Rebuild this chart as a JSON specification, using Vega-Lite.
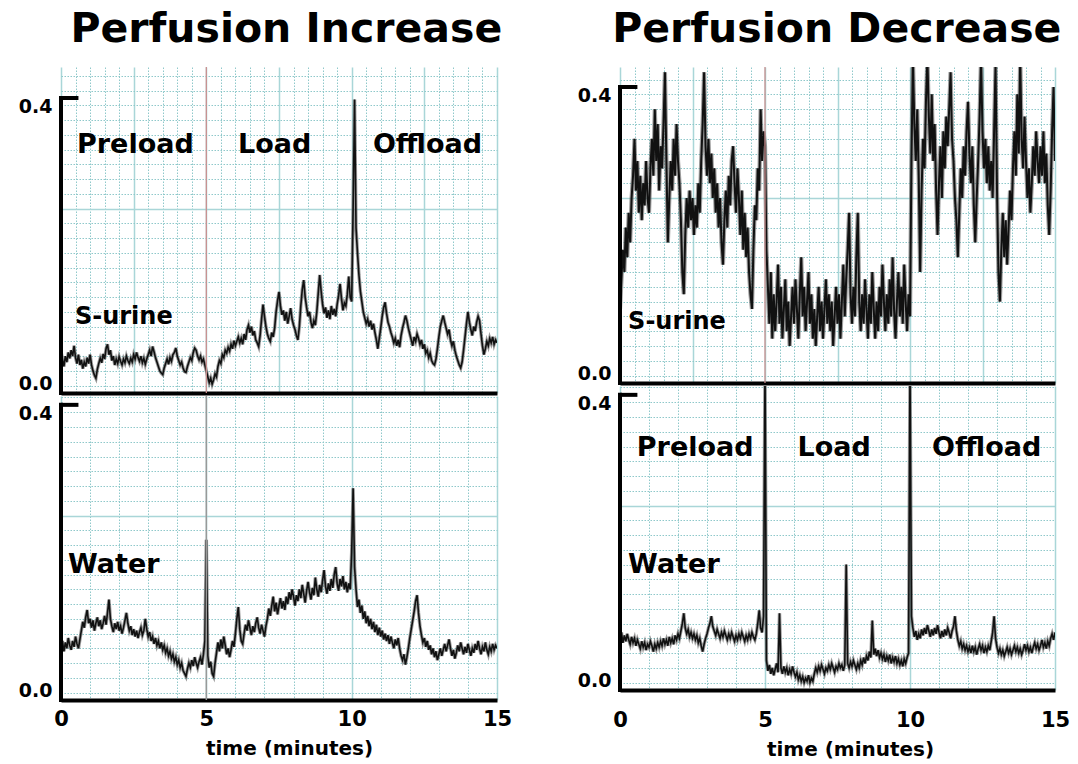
{
"$schema": "https://vega.github.io/schema/vega-lite/v6.json",
"background": "white",
"padding": {"left": 11, "top": 9, "right": 5, "bottom": 5},
"config": {
 "view": {"stroke": null},
 "font": "DejaVu Sans",
 "title": {"font": "DejaVu Sans", "fontSize": 41, "fontWeight": "bold", "color": "black", "anchor": "middle"},
 "axis": {"labelFont": "DejaVu Sans", "titleFont": "DejaVu Sans", "labelColor": "black", "titleColor": "black", "labelFontWeight": "bold", "titleFontWeight": "bold"}
},
"datasets": {"trace": [
{"t":0,"a":0.040,"b":0.072,"c":0.100,"d":0.070},
{"t":0.05,"a":0.046,"b":0.080,"c":0.140,"d":0.078},
{"t":0.1,"a":0.036,"b":0.066,"c":0.180,"d":0.064},
{"t":0.15,"a":0.050,"b":0.078,"c":0.150,"d":0.074},
{"t":0.2,"a":0.042,"b":0.070,"c":0.210,"d":0.066},
{"t":0.25,"a":0.055,"b":0.084,"c":0.170,"d":0.076},
{"t":0.3,"a":0.047,"b":0.074,"c":0.230,"d":0.068},
{"t":0.35,"a":0.058,"b":0.068,"c":0.190,"d":0.062},
{"t":0.4,"a":0.050,"b":0.080,"c":0.250,"d":0.072},
{"t":0.45,"a":0.064,"b":0.072,"c":0.280,"d":0.064},
{"t":0.5,"a":0.048,"b":0.086,"c":0.330,"d":0.070},
{"t":0.55,"a":0.040,"b":0.076,"c":0.260,"d":0.060},
{"t":0.6,"a":0.052,"b":0.070,"c":0.300,"d":0.068},
{"t":0.65,"a":0.038,"b":0.082,"c":0.230,"d":0.062},
{"t":0.7,"a":0.045,"b":0.094,"c":0.280,"d":0.056},
{"t":0.75,"a":0.033,"b":0.106,"c":0.220,"d":0.066},
{"t":0.8,"a":0.042,"b":0.098,"c":0.270,"d":0.058},
{"t":0.85,"a":0.036,"b":0.112,"c":0.240,"d":0.064},
{"t":0.9,"a":0.048,"b":0.122,"c":0.300,"d":0.054},
{"t":0.95,"a":0.040,"b":0.104,"c":0.250,"d":0.062},
{"t":1.0,"a":0.052,"b":0.110,"c":0.230,"d":0.058},
{"t":1.05,"a":0.038,"b":0.098,"c":0.290,"d":0.066},
{"t":1.1,"a":0.030,"b":0.108,"c":0.330,"d":0.060},
{"t":1.15,"a":0.024,"b":0.094,"c":0.280,"d":0.052},
{"t":1.2,"a":0.020,"b":0.104,"c":0.370,"d":0.062},
{"t":1.25,"a":0.032,"b":0.112,"c":0.300,"d":0.056},
{"t":1.3,"a":0.040,"b":0.100,"c":0.350,"d":0.064},
{"t":1.35,"a":0.047,"b":0.108,"c":0.260,"d":0.058},
{"t":1.4,"a":0.041,"b":0.096,"c":0.320,"d":0.066},
{"t":1.45,"a":0.053,"b":0.104,"c":0.290,"d":0.060},
{"t":1.5,"a":0.046,"b":0.114,"c":0.350,"d":0.070},
{"t":1.55,"a":0.060,"b":0.102,"c":0.420,"d":0.062},
{"t":1.6,"a":0.066,"b":0.118,"c":0.300,"d":0.068},
{"t":1.65,"a":0.052,"b":0.136,"c":0.190,"d":0.060},
{"t":1.7,"a":0.058,"b":0.110,"c":0.250,"d":0.072},
{"t":1.75,"a":0.044,"b":0.100,"c":0.300,"d":0.064},
{"t":1.8,"a":0.050,"b":0.092,"c":0.260,"d":0.070},
{"t":1.85,"a":0.038,"b":0.104,"c":0.330,"d":0.062},
{"t":1.9,"a":0.046,"b":0.096,"c":0.280,"d":0.074},
{"t":1.95,"a":0.040,"b":0.106,"c":0.350,"d":0.068},
{"t":2.0,"a":0.049,"b":0.094,"c":0.300,"d":0.076},
{"t":2.05,"a":0.043,"b":0.100,"c":0.270,"d":0.070},
{"t":2.1,"a":0.038,"b":0.090,"c":0.220,"d":0.080},
{"t":2.15,"a":0.046,"b":0.098,"c":0.150,"d":0.090},
{"t":2.2,"a":0.041,"b":0.108,"c":0.120,"d":0.104},
{"t":2.25,"a":0.050,"b":0.118,"c":0.200,"d":0.084},
{"t":2.3,"a":0.044,"b":0.104,"c":0.250,"d":0.076},
{"t":2.35,"a":0.040,"b":0.094,"c":0.210,"d":0.082},
{"t":2.4,"a":0.047,"b":0.100,"c":0.260,"d":0.072},
{"t":2.45,"a":0.042,"b":0.088,"c":0.220,"d":0.078},
{"t":2.5,"a":0.052,"b":0.096,"c":0.250,"d":0.070},
{"t":2.55,"a":0.046,"b":0.086,"c":0.200,"d":0.076},
{"t":2.6,"a":0.055,"b":0.094,"c":0.240,"d":0.068},
{"t":2.65,"a":0.048,"b":0.084,"c":0.210,"d":0.074},
{"t":2.7,"a":0.043,"b":0.092,"c":0.270,"d":0.064},
{"t":2.75,"a":0.050,"b":0.098,"c":0.230,"d":0.070},
{"t":2.8,"a":0.041,"b":0.088,"c":0.300,"d":0.060},
{"t":2.85,"a":0.047,"b":0.094,"c":0.350,"d":0.052},
{"t":2.9,"a":0.039,"b":0.110,"c":0.420,"d":0.062},
{"t":2.95,"a":0.046,"b":0.096,"c":0.320,"d":0.070},
{"t":3.0,"a":0.052,"b":0.086,"c":0.280,"d":0.076},
{"t":3.05,"a":0.058,"b":0.092,"c":0.330,"d":0.084},
{"t":3.1,"a":0.050,"b":0.080,"c":0.270,"d":0.090},
{"t":3.15,"a":0.063,"b":0.086,"c":0.310,"d":0.100},
{"t":3.2,"a":0.056,"b":0.076,"c":0.250,"d":0.086},
{"t":3.25,"a":0.048,"b":0.084,"c":0.290,"d":0.080},
{"t":3.3,"a":0.042,"b":0.074,"c":0.230,"d":0.074},
{"t":3.35,"a":0.036,"b":0.080,"c":0.270,"d":0.082},
{"t":3.4,"a":0.030,"b":0.070,"c":0.210,"d":0.076},
{"t":3.45,"a":0.027,"b":0.078,"c":0.250,"d":0.070},
{"t":3.5,"a":0.025,"b":0.068,"c":0.190,"d":0.078},
{"t":3.55,"a":0.034,"b":0.074,"c":0.160,"d":0.072},
{"t":3.6,"a":0.040,"b":0.064,"c":0.220,"d":0.080},
{"t":3.65,"a":0.046,"b":0.070,"c":0.260,"d":0.074},
{"t":3.7,"a":0.039,"b":0.060,"c":0.210,"d":0.068},
{"t":3.75,"a":0.048,"b":0.066,"c":0.280,"d":0.076},
{"t":3.8,"a":0.043,"b":0.056,"c":0.240,"d":0.070},
{"t":3.85,"a":0.052,"b":0.062,"c":0.300,"d":0.078},
{"t":3.9,"a":0.055,"b":0.052,"c":0.320,"d":0.072},
{"t":3.95,"a":0.061,"b":0.058,"c":0.270,"d":0.066},
{"t":4.0,"a":0.050,"b":0.048,"c":0.230,"d":0.074},
{"t":4.05,"a":0.044,"b":0.054,"c":0.290,"d":0.068},
{"t":4.1,"a":0.038,"b":0.044,"c":0.250,"d":0.076},
{"t":4.15,"a":0.042,"b":0.050,"c":0.200,"d":0.070},
{"t":4.2,"a":0.034,"b":0.040,"c":0.260,"d":0.078},
{"t":4.25,"a":0.029,"b":0.036,"c":0.180,"d":0.072},
{"t":4.3,"a":0.028,"b":0.032,"c":0.230,"d":0.066},
{"t":4.35,"a":0.036,"b":0.042,"c":0.170,"d":0.074},
{"t":4.4,"a":0.042,"b":0.050,"c":0.210,"d":0.068},
{"t":4.45,"a":0.048,"b":0.044,"c":0.150,"d":0.076},
{"t":4.5,"a":0.044,"b":0.054,"c":0.120,"d":0.070},
{"t":4.55,"a":0.055,"b":0.046,"c":0.100,"d":0.078},
{"t":4.6,"a":0.061,"b":0.058,"c":0.180,"d":0.072},
{"t":4.65,"a":0.058,"b":0.050,"c":0.240,"d":0.068},
{"t":4.7,"a":0.050,"b":0.044,"c":0.220,"d":0.076},
{"t":4.75,"a":0.045,"b":0.052,"c":0.290,"d":0.090},
{"t":4.8,"a":0.050,"b":0.058,"c":0.260,"d":0.108},
{"t":4.85,"a":0.042,"b":0.048,"c":0.370,"d":0.084},
{"t":4.9,"a":0.046,"b":0.062,"c":0.300,"d":0.078},
{"t":4.95,"a":0.038,"b":0.080,"c":0.340,"d":0.100},
{"t":5.0,"a":0.030,"b":0.217,"c":0.320,"d":0.440},
{"t":5.05,"a":0.022,"b":0.060,"c":0.180,"d":0.040},
{"t":5.1,"a":0.014,"b":0.044,"c":0.130,"d":0.026},
{"t":5.15,"a":0.020,"b":0.052,"c":0.080,"d":0.034},
{"t":5.2,"a":0.012,"b":0.036,"c":0.150,"d":0.022},
{"t":5.25,"a":0.018,"b":0.032,"c":0.060,"d":0.030},
{"t":5.3,"a":0.026,"b":0.050,"c":0.120,"d":0.020},
{"t":5.35,"a":0.022,"b":0.064,"c":0.070,"d":0.028},
{"t":5.4,"a":0.036,"b":0.078,"c":0.110,"d":0.036},
{"t":5.45,"a":0.044,"b":0.066,"c":0.160,"d":0.024},
{"t":5.5,"a":0.040,"b":0.082,"c":0.080,"d":0.104},
{"t":5.55,"a":0.052,"b":0.070,"c":0.130,"d":0.030},
{"t":5.6,"a":0.048,"b":0.086,"c":0.060,"d":0.022},
{"t":5.65,"a":0.058,"b":0.074,"c":0.100,"d":0.032},
{"t":5.7,"a":0.054,"b":0.062,"c":0.140,"d":0.024},
{"t":5.75,"a":0.062,"b":0.070,"c":0.070,"d":0.030},
{"t":5.8,"a":0.057,"b":0.058,"c":0.110,"d":0.020},
{"t":5.85,"a":0.066,"b":0.068,"c":0.050,"d":0.028},
{"t":5.9,"a":0.060,"b":0.080,"c":0.090,"d":0.022},
{"t":5.95,"a":0.071,"b":0.072,"c":0.130,"d":0.032},
{"t":6.0,"a":0.064,"b":0.090,"c":0.080,"d":0.024},
{"t":6.05,"a":0.070,"b":0.110,"c":0.140,"d":0.018},
{"t":6.1,"a":0.076,"b":0.126,"c":0.100,"d":0.024},
{"t":6.15,"a":0.068,"b":0.096,"c":0.060,"d":0.014},
{"t":6.2,"a":0.074,"b":0.080,"c":0.120,"d":0.020},
{"t":6.25,"a":0.066,"b":0.076,"c":0.170,"d":0.012},
{"t":6.3,"a":0.080,"b":0.090,"c":0.090,"d":0.018},
{"t":6.35,"a":0.072,"b":0.102,"c":0.130,"d":0.010},
{"t":6.4,"a":0.086,"b":0.094,"c":0.070,"d":0.016},
{"t":6.45,"a":0.092,"b":0.108,"c":0.110,"d":0.012},
{"t":6.5,"a":0.082,"b":0.098,"c":0.150,"d":0.020},
{"t":6.55,"a":0.090,"b":0.088,"c":0.080,"d":0.010},
{"t":6.6,"a":0.078,"b":0.100,"c":0.120,"d":0.016},
{"t":6.65,"a":0.084,"b":0.092,"c":0.060,"d":0.012},
{"t":6.7,"a":0.072,"b":0.104,"c":0.100,"d":0.022},
{"t":6.75,"a":0.068,"b":0.112,"c":0.050,"d":0.030},
{"t":6.8,"a":0.063,"b":0.098,"c":0.090,"d":0.024},
{"t":6.85,"a":0.078,"b":0.090,"c":0.130,"d":0.032},
{"t":6.9,"a":0.100,"b":0.102,"c":0.070,"d":0.026},
{"t":6.95,"a":0.120,"b":0.094,"c":0.110,"d":0.034},
{"t":7.0,"a":0.104,"b":0.086,"c":0.060,"d":0.028},
{"t":7.05,"a":0.090,"b":0.100,"c":0.100,"d":0.022},
{"t":7.1,"a":0.080,"b":0.110,"c":0.140,"d":0.030},
{"t":7.15,"a":0.074,"b":0.124,"c":0.080,"d":0.026},
{"t":7.2,"a":0.070,"b":0.114,"c":0.120,"d":0.034},
{"t":7.25,"a":0.082,"b":0.128,"c":0.070,"d":0.028},
{"t":7.3,"a":0.076,"b":0.140,"c":0.110,"d":0.036},
{"t":7.35,"a":0.088,"b":0.120,"c":0.050,"d":0.030},
{"t":7.4,"a":0.110,"b":0.132,"c":0.090,"d":0.024},
{"t":7.45,"a":0.125,"b":0.116,"c":0.130,"d":0.032},
{"t":7.5,"a":0.137,"b":0.128,"c":0.080,"d":0.028},
{"t":7.55,"a":0.118,"b":0.138,"c":0.120,"d":0.036},
{"t":7.6,"a":0.106,"b":0.124,"c":0.060,"d":0.030},
{"t":7.65,"a":0.112,"b":0.134,"c":0.110,"d":0.034},
{"t":7.7,"a":0.098,"b":0.122,"c":0.160,"d":0.026},
{"t":7.75,"a":0.110,"b":0.140,"c":0.090,"d":0.034},
{"t":7.8,"a":0.094,"b":0.130,"c":0.140,"d":0.170},
{"t":7.85,"a":0.104,"b":0.146,"c":0.180,"d":0.036},
{"t":7.9,"a":0.115,"b":0.136,"c":0.230,"d":0.030},
{"t":7.95,"a":0.100,"b":0.150,"c":0.120,"d":0.038},
{"t":8.0,"a":0.092,"b":0.140,"c":0.080,"d":0.032},
{"t":8.05,"a":0.086,"b":0.128,"c":0.130,"d":0.040},
{"t":8.1,"a":0.078,"b":0.142,"c":0.090,"d":0.034},
{"t":8.15,"a":0.072,"b":0.134,"c":0.170,"d":0.028},
{"t":8.2,"a":0.090,"b":0.150,"c":0.230,"d":0.036},
{"t":8.25,"a":0.118,"b":0.138,"c":0.110,"d":0.030},
{"t":8.3,"a":0.140,"b":0.156,"c":0.070,"d":0.040},
{"t":8.35,"a":0.153,"b":0.144,"c":0.120,"d":0.034},
{"t":8.4,"a":0.130,"b":0.132,"c":0.080,"d":0.044},
{"t":8.45,"a":0.116,"b":0.148,"c":0.140,"d":0.036},
{"t":8.5,"a":0.104,"b":0.160,"c":0.100,"d":0.046},
{"t":8.55,"a":0.110,"b":0.146,"c":0.060,"d":0.040},
{"t":8.6,"a":0.096,"b":0.136,"c":0.120,"d":0.052},
{"t":8.65,"a":0.088,"b":0.152,"c":0.080,"d":0.044},
{"t":8.7,"a":0.098,"b":0.142,"c":0.150,"d":0.094},
{"t":8.75,"a":0.092,"b":0.166,"c":0.100,"d":0.048},
{"t":8.8,"a":0.110,"b":0.150,"c":0.060,"d":0.056},
{"t":8.85,"a":0.135,"b":0.140,"c":0.110,"d":0.046},
{"t":8.9,"a":0.160,"b":0.156,"c":0.070,"d":0.054},
{"t":8.95,"a":0.138,"b":0.146,"c":0.130,"d":0.044},
{"t":9.0,"a":0.120,"b":0.162,"c":0.090,"d":0.050},
{"t":9.05,"a":0.108,"b":0.176,"c":0.160,"d":0.042},
{"t":9.1,"a":0.116,"b":0.154,"c":0.110,"d":0.048},
{"t":9.15,"a":0.102,"b":0.144,"c":0.070,"d":0.038},
{"t":9.2,"a":0.112,"b":0.158,"c":0.120,"d":0.046},
{"t":9.25,"a":0.100,"b":0.148,"c":0.080,"d":0.040},
{"t":9.3,"a":0.118,"b":0.164,"c":0.140,"d":0.048},
{"t":9.35,"a":0.106,"b":0.152,"c":0.090,"d":0.036},
{"t":9.4,"a":0.114,"b":0.170,"c":0.170,"d":0.044},
{"t":9.45,"a":0.104,"b":0.180,"c":0.100,"d":0.038},
{"t":9.5,"a":0.120,"b":0.158,"c":0.060,"d":0.046},
{"t":9.55,"a":0.132,"b":0.148,"c":0.110,"d":0.036},
{"t":9.6,"a":0.148,"b":0.164,"c":0.150,"d":0.042},
{"t":9.65,"a":0.128,"b":0.154,"c":0.090,"d":0.034},
{"t":9.7,"a":0.112,"b":0.168,"c":0.130,"d":0.040},
{"t":9.75,"a":0.122,"b":0.150,"c":0.080,"d":0.032},
{"t":9.8,"a":0.118,"b":0.160,"c":0.160,"d":0.042},
{"t":9.85,"a":0.134,"b":0.146,"c":0.110,"d":0.036},
{"t":9.9,"a":0.158,"b":0.158,"c":0.070,"d":0.044},
{"t":9.95,"a":0.130,"b":0.150,"c":0.120,"d":0.050},
{"t":10.0,"a":0.124,"b":0.200,"c":0.090,"d":0.440},
{"t":10.05,"a":0.250,"b":0.287,"c":0.300,"d":0.100},
{"t":10.1,"a":0.398,"b":0.180,"c":0.440,"d":0.084},
{"t":10.15,"a":0.224,"b":0.150,"c":0.350,"d":0.072},
{"t":10.2,"a":0.190,"b":0.126,"c":0.300,"d":0.080},
{"t":10.25,"a":0.160,"b":0.136,"c":0.370,"d":0.068},
{"t":10.3,"a":0.138,"b":0.118,"c":0.280,"d":0.076},
{"t":10.35,"a":0.124,"b":0.128,"c":0.150,"d":0.070},
{"t":10.4,"a":0.110,"b":0.110,"c":0.260,"d":0.082},
{"t":10.45,"a":0.102,"b":0.120,"c":0.330,"d":0.074},
{"t":10.5,"a":0.094,"b":0.104,"c":0.290,"d":0.084},
{"t":10.55,"a":0.100,"b":0.114,"c":0.380,"d":0.076},
{"t":10.6,"a":0.090,"b":0.100,"c":0.440,"d":0.088},
{"t":10.65,"a":0.098,"b":0.110,"c":0.360,"d":0.080},
{"t":10.7,"a":0.086,"b":0.096,"c":0.310,"d":0.072},
{"t":10.75,"a":0.094,"b":0.106,"c":0.390,"d":0.082},
{"t":10.8,"a":0.082,"b":0.092,"c":0.300,"d":0.074},
{"t":10.85,"a":0.072,"b":0.102,"c":0.350,"d":0.084},
{"t":10.9,"a":0.060,"b":0.088,"c":0.260,"d":0.076},
{"t":10.95,"a":0.074,"b":0.098,"c":0.200,"d":0.088},
{"t":11.0,"a":0.088,"b":0.086,"c":0.270,"d":0.078},
{"t":11.05,"a":0.104,"b":0.094,"c":0.320,"d":0.070},
{"t":11.1,"a":0.116,"b":0.082,"c":0.250,"d":0.080},
{"t":11.15,"a":0.123,"b":0.090,"c":0.340,"d":0.072},
{"t":11.2,"a":0.108,"b":0.080,"c":0.290,"d":0.082},
{"t":11.25,"a":0.096,"b":0.088,"c":0.360,"d":0.074},
{"t":11.3,"a":0.090,"b":0.076,"c":0.320,"d":0.084},
{"t":11.35,"a":0.082,"b":0.086,"c":0.370,"d":0.078},
{"t":11.4,"a":0.076,"b":0.078,"c":0.420,"d":0.070},
{"t":11.45,"a":0.068,"b":0.070,"c":0.330,"d":0.080},
{"t":11.5,"a":0.074,"b":0.082,"c":0.300,"d":0.086},
{"t":11.55,"a":0.064,"b":0.074,"c":0.250,"d":0.100},
{"t":11.6,"a":0.072,"b":0.084,"c":0.220,"d":0.080},
{"t":11.65,"a":0.062,"b":0.070,"c":0.170,"d":0.068},
{"t":11.7,"a":0.078,"b":0.060,"c":0.230,"d":0.060},
{"t":11.75,"a":0.088,"b":0.054,"c":0.290,"d":0.066},
{"t":11.8,"a":0.096,"b":0.062,"c":0.250,"d":0.056},
{"t":11.85,"a":0.105,"b":0.048,"c":0.320,"d":0.062},
{"t":11.9,"a":0.098,"b":0.058,"c":0.280,"d":0.054},
{"t":11.95,"a":0.088,"b":0.070,"c":0.340,"d":0.060},
{"t":12.0,"a":0.080,"b":0.084,"c":0.380,"d":0.052},
{"t":12.05,"a":0.072,"b":0.096,"c":0.310,"d":0.058},
{"t":12.1,"a":0.064,"b":0.108,"c":0.270,"d":0.050},
{"t":12.15,"a":0.076,"b":0.120,"c":0.320,"d":0.060},
{"t":12.2,"a":0.070,"b":0.134,"c":0.240,"d":0.052},
{"t":12.25,"a":0.080,"b":0.142,"c":0.190,"d":0.058},
{"t":12.3,"a":0.074,"b":0.118,"c":0.250,"d":0.048},
{"t":12.35,"a":0.066,"b":0.100,"c":0.300,"d":0.056},
{"t":12.4,"a":0.072,"b":0.088,"c":0.360,"d":0.062},
{"t":12.45,"a":0.060,"b":0.078,"c":0.440,"d":0.054},
{"t":12.5,"a":0.066,"b":0.084,"c":0.340,"d":0.060},
{"t":12.55,"a":0.054,"b":0.072,"c":0.290,"d":0.050},
{"t":12.6,"a":0.058,"b":0.080,"c":0.330,"d":0.058},
{"t":12.65,"a":0.048,"b":0.068,"c":0.270,"d":0.052},
{"t":12.7,"a":0.054,"b":0.074,"c":0.320,"d":0.060},
{"t":12.75,"a":0.044,"b":0.062,"c":0.260,"d":0.054},
{"t":12.8,"a":0.040,"b":0.070,"c":0.300,"d":0.066},
{"t":12.85,"a":0.038,"b":0.058,"c":0.250,"d":0.078},
{"t":12.9,"a":0.046,"b":0.066,"c":0.340,"d":0.100},
{"t":12.95,"a":0.060,"b":0.054,"c":0.430,"d":0.070},
{"t":13.0,"a":0.076,"b":0.062,"c":0.260,"d":0.058},
{"t":13.05,"a":0.090,"b":0.070,"c":0.150,"d":0.050},
{"t":13.1,"a":0.098,"b":0.060,"c":0.110,"d":0.056},
{"t":13.15,"a":0.105,"b":0.068,"c":0.180,"d":0.048},
{"t":13.2,"a":0.096,"b":0.076,"c":0.230,"d":0.054},
{"t":13.25,"a":0.088,"b":0.066,"c":0.170,"d":0.046},
{"t":13.3,"a":0.080,"b":0.074,"c":0.220,"d":0.052},
{"t":13.35,"a":0.086,"b":0.082,"c":0.160,"d":0.058},
{"t":13.4,"a":0.072,"b":0.070,"c":0.210,"d":0.050},
{"t":13.45,"a":0.064,"b":0.060,"c":0.260,"d":0.056},
{"t":13.5,"a":0.070,"b":0.068,"c":0.220,"d":0.048},
{"t":13.55,"a":0.058,"b":0.056,"c":0.290,"d":0.054},
{"t":13.6,"a":0.050,"b":0.064,"c":0.340,"d":0.060},
{"t":13.65,"a":0.044,"b":0.074,"c":0.280,"d":0.052},
{"t":13.7,"a":0.038,"b":0.066,"c":0.390,"d":0.058},
{"t":13.75,"a":0.034,"b":0.078,"c":0.310,"d":0.050},
{"t":13.8,"a":0.042,"b":0.070,"c":0.440,"d":0.056},
{"t":13.85,"a":0.058,"b":0.062,"c":0.330,"d":0.048},
{"t":13.9,"a":0.076,"b":0.072,"c":0.290,"d":0.054},
{"t":13.95,"a":0.094,"b":0.064,"c":0.360,"d":0.062},
{"t":14.0,"a":0.110,"b":0.076,"c":0.300,"d":0.054},
{"t":14.05,"a":0.096,"b":0.068,"c":0.250,"d":0.060},
{"t":14.1,"a":0.086,"b":0.060,"c":0.290,"d":0.052},
{"t":14.15,"a":0.078,"b":0.070,"c":0.230,"d":0.058},
{"t":14.2,"a":0.090,"b":0.064,"c":0.270,"d":0.050},
{"t":14.25,"a":0.084,"b":0.076,"c":0.320,"d":0.058},
{"t":14.3,"a":0.096,"b":0.068,"c":0.280,"d":0.064},
{"t":14.35,"a":0.104,"b":0.080,"c":0.340,"d":0.056},
{"t":14.4,"a":0.098,"b":0.070,"c":0.300,"d":0.062},
{"t":14.45,"a":0.080,"b":0.062,"c":0.270,"d":0.054},
{"t":14.5,"a":0.064,"b":0.072,"c":0.320,"d":0.060},
{"t":14.55,"a":0.052,"b":0.066,"c":0.280,"d":0.068},
{"t":14.6,"a":0.060,"b":0.078,"c":0.340,"d":0.058},
{"t":14.65,"a":0.070,"b":0.068,"c":0.270,"d":0.064},
{"t":14.7,"a":0.064,"b":0.062,"c":0.310,"d":0.056},
{"t":14.75,"a":0.074,"b":0.072,"c":0.240,"d":0.066},
{"t":14.8,"a":0.068,"b":0.066,"c":0.200,"d":0.060},
{"t":14.85,"a":0.076,"b":0.076,"c":0.260,"d":0.070},
{"t":14.9,"a":0.066,"b":0.068,"c":0.340,"d":0.076},
{"t":14.95,"a":0.072,"b":0.074,"c":0.400,"d":0.068},
{"t":15.0,"a":0.068,"b":0.070,"c":0.300,"d":0.078}
]},
"spacing": 58,
"hconcat": [
{
 "title": {"text": "Perfusion Increase", "offset": 15, "dx": 25},
 "spacing": -2,
 "vconcat": [
  {
   "width": 436, "height": 326,
   "layer": [
    {
     "data": {"name": "trace"},
     "mark": {"type": "line", "color": "#5a5a5a", "strokeWidth": 3.4, "opacity": 0.6, "clip": true},
     "encoding": {
      "x": {"field": "t", "type": "quantitative", "scale": {"domain": [0, 15], "nice": false, "zero": false},
       "axis": {"title": null, "tickCount": 1000, "values": [0,0.5,1,1.5,2,2.5,3,3.5,4,4.5,5,5.5,6,6.5,7,7.5,8,8.5,9,9.5,10,10.5,11,11.5,12,12.5,13,13.5,14,14.5,15],
        "labels": false, "ticks": false, "domainColor": "black", "domainWidth": 4, "grid": true,
        "gridColor": {"condition": {"test": "datum.value % 2.5 === 0", "value": "#a9d6d8"}, "value": "#8fc8ca"},
        "gridDash": {"condition": {"test": "datum.value % 2.5 === 0", "value": []}, "value": [1.5, 1.5]},
        "gridWidth": {"condition": {"test": "datum.value % 2.5 === 0", "value": 1.5}, "value": 1}}},
      "y": {"field": "a", "type": "quantitative", "scale": {"domain": [0, 0.442], "nice": false},
       "axis": {"title": null, "tickCount": 1000, "values": [0,0.4,0.01,0.03,0.05,0.07,0.09,0.11,0.13,0.15,0.17,0.19,0.21,0.23,0.25,0.27,0.29,0.31,0.33,0.35,0.37,0.39,0.41,0.43],
        "labelExpr": "datum.value === 0 || datum.value === 0.4 ? format(datum.value, '.1f') : ''",
        "labelFontSize": {"condition": {"test": "datum.value === 0 || datum.value === 0.4", "value": 19}, "value": 0.1},
        "labelPadding": 9, "labelOverlap": false,
        "labelBaseline": {"condition": {"test": "datum.value === 0", "value": "bottom"}, "value": "top"},
        "ticks": false, "domain": false, "minExtent": 50, "maxExtent": 50, "grid": true,
        "gridColor": {"condition": {"test": "datum.value === 0.25", "value": "#a9d6d8"}, "value": "#8fc8ca"},
        "gridDash": {"condition": {"test": "datum.value === 0.25", "value": []}, "value": [1.5, 1.5]},
        "gridWidth": {"condition": {"test": "datum.value === 0.25", "value": 1.5}, "value": 1},
        "gridOpacity": {"condition": {"test": "datum.value === 0 || datum.value === 0.4", "value": 0}, "value": 1}}}
     }
    },
    {"data": {"name": "trace"}, "mark": {"type": "line", "color": "#111111", "strokeWidth": 1.6, "clip": true}, "encoding": {"x": {"field": "t", "type": "quantitative"}, "y": {"field": "a", "type": "quantitative"}}},
    {"data": {"values": [{}]}, "mark": {"type": "rule", "color": "#c99090", "strokeWidth": 1.3}, "encoding": {"x": {"datum": 5}}},
    {"data": {"values": [{}]}, "mark": {"type": "rule", "color": "black", "strokeWidth": 4, "strokeCap": "square"}, "encoding": {"x": {"datum": 0}, "y": {"datum": 0}, "y2": {"datum": 0.4}}},
    {"data": {"values": [{}]}, "mark": {"type": "rule", "color": "black", "strokeWidth": 4}, "encoding": {"x": {"datum": 0}, "x2": {"datum": 0.6}, "y": {"datum": 0.4}}},
    {"data": {"values": [{}]}, "mark": {"type": "text", "text": "Preload", "align": "left", "baseline": "middle", "fontSize": 27, "fontWeight": "bold", "font": "DejaVu Sans"}, "encoding": {"x": {"datum": 0.55}, "y": {"datum": 0.336}}},
    {"data": {"values": [{}]}, "mark": {"type": "text", "text": "Load", "align": "left", "baseline": "middle", "fontSize": 27, "fontWeight": "bold", "font": "DejaVu Sans"}, "encoding": {"x": {"datum": 6.09}, "y": {"datum": 0.336}}},
    {"data": {"values": [{}]}, "mark": {"type": "text", "text": "Offload", "align": "left", "baseline": "middle", "fontSize": 27, "fontWeight": "bold", "font": "DejaVu Sans"}, "encoding": {"x": {"datum": 10.73}, "y": {"datum": 0.336}}},
    {"data": {"values": [{}]}, "mark": {"type": "text", "text": "S-urine", "align": "left", "baseline": "middle", "fontSize": 24, "fontWeight": "bold", "font": "DejaVu Sans"}, "encoding": {"x": {"datum": 0.48}, "y": {"datum": 0.103}}}
   ]
  },
  {
   "width": 436, "height": 304,
   "layer": [
    {
     "data": {"name": "trace"},
     "mark": {"type": "line", "color": "#5a5a5a", "strokeWidth": 3.4, "opacity": 0.6, "clip": true},
     "encoding": {
      "x": {"field": "t", "type": "quantitative", "scale": {"domain": [0, 15], "nice": false, "zero": false},
       "axis": {"title": "time (minutes)", "titleFontSize": 20, "titlePadding": 9, "titleX": 228, "tickCount": 1000, "values": [0,0.5,1,1.5,2,2.5,3,3.5,4,4.5,5,5.5,6,6.5,7,7.5,8,8.5,9,9.5,10,10.5,11,11.5,12,12.5,13,13.5,14,14.5,15],
        "format": "d", "labelExpr": "datum.value % 5 === 0 ? datum.label : ''", "labelFontSize": 21, "labelPadding": 8, "labelFlush": false, "labelOverlap": false,
        "ticks": false, "domainColor": "black", "domainWidth": 4, "grid": true,
        "gridColor": {"condition": {"test": "datum.value % 2.5 === 0", "value": "#a9d6d8"}, "value": "#8fc8ca"},
        "gridDash": {"condition": {"test": "datum.value % 2.5 === 0", "value": []}, "value": [1.5, 1.5]},
        "gridWidth": {"condition": {"test": "datum.value % 2.5 === 0", "value": 1.5}, "value": 1}}},
      "y": {"field": "b", "type": "quantitative", "scale": {"domain": [0, 0.412], "nice": false},
       "axis": {"title": null, "tickCount": 1000, "values": [0,0.4,0.01,0.03,0.05,0.07,0.09,0.11,0.13,0.15,0.17,0.19,0.21,0.23,0.25,0.27,0.29,0.31,0.33,0.35,0.37,0.39,0.41],
        "labelExpr": "datum.value === 0 || datum.value === 0.4 ? format(datum.value, '.1f') : ''",
        "labelFontSize": {"condition": {"test": "datum.value === 0 || datum.value === 0.4", "value": 19}, "value": 0.1},
        "labelPadding": 9, "labelOverlap": false,
        "labelBaseline": {"condition": {"test": "datum.value === 0", "value": "bottom"}, "value": "top"},
        "ticks": false, "domain": false, "minExtent": 50, "maxExtent": 50, "grid": true,
        "gridColor": {"condition": {"test": "datum.value === 0.25", "value": "#a9d6d8"}, "value": "#8fc8ca"},
        "gridDash": {"condition": {"test": "datum.value === 0.25", "value": []}, "value": [1.5, 1.5]},
        "gridWidth": {"condition": {"test": "datum.value === 0.25", "value": 1.5}, "value": 1},
        "gridOpacity": {"condition": {"test": "datum.value === 0 || datum.value === 0.4", "value": 0}, "value": 1}}}
     }
    },
    {"data": {"name": "trace"}, "mark": {"type": "line", "color": "#111111", "strokeWidth": 1.6, "clip": true}, "encoding": {"x": {"field": "t", "type": "quantitative"}, "y": {"field": "b", "type": "quantitative"}}},
    {"data": {"values": [{}]}, "mark": {"type": "rule", "color": "#999999", "strokeWidth": 1.5}, "encoding": {"x": {"datum": 5}}},
    {"data": {"values": [{}]}, "mark": {"type": "rule", "color": "black", "strokeWidth": 4, "strokeCap": "square"}, "encoding": {"x": {"datum": 0}, "y": {"datum": 0}, "y2": {"datum": 0.4}}},
    {"data": {"values": [{}]}, "mark": {"type": "rule", "color": "black", "strokeWidth": 4}, "encoding": {"x": {"datum": 0}, "x2": {"datum": 0.6}, "y": {"datum": 0.4}}},
    {"data": {"values": [{}]}, "mark": {"type": "text", "text": "Water", "align": "left", "baseline": "middle", "fontSize": 27, "fontWeight": "bold", "font": "DejaVu Sans"}, "encoding": {"x": {"datum": 0.24}, "y": {"datum": 0.183}}}
   ]
  }
 ]
},
{
 "title": {"text": "Perfusion Decrease", "offset": 15, "dx": 17},
 "spacing": -2,
 "vconcat": [
  {
   "width": 435, "height": 316,
   "layer": [
    {
     "data": {"name": "trace"},
     "mark": {"type": "line", "color": "#5a5a5a", "strokeWidth": 4.2, "opacity": 0.6, "clip": true},
     "encoding": {
      "x": {"field": "t", "type": "quantitative", "scale": {"domain": [0, 15], "nice": false, "zero": false},
       "axis": {"title": null, "tickCount": 1000, "values": [0,0.5,1,1.5,2,2.5,3,3.5,4,4.5,5,5.5,6,6.5,7,7.5,8,8.5,9,9.5,10,10.5,11,11.5,12,12.5,13,13.5,14,14.5,15],
        "labels": false, "ticks": false, "domainColor": "black", "domainWidth": 4, "grid": true,
        "gridColor": {"condition": {"test": "datum.value % 2.5 === 0", "value": "#a9d6d8"}, "value": "#8fc8ca"},
        "gridDash": {"condition": {"test": "datum.value % 2.5 === 0", "value": []}, "value": [1.5, 1.5]},
        "gridWidth": {"condition": {"test": "datum.value % 2.5 === 0", "value": 1.5}, "value": 1}}},
      "y": {"field": "c", "type": "quantitative", "scale": {"domain": [0, 0.427], "nice": false},
       "axis": {"title": null, "tickCount": 1000, "values": [0,0.4,0.01,0.03,0.05,0.07,0.09,0.11,0.13,0.15,0.17,0.19,0.21,0.23,0.25,0.27,0.29,0.31,0.33,0.35,0.37,0.39,0.41],
        "labelExpr": "datum.value === 0 || datum.value === 0.4 ? format(datum.value, '.1f') : ''",
        "labelFontSize": {"condition": {"test": "datum.value === 0 || datum.value === 0.4", "value": 19}, "value": 0.1},
        "labelPadding": 9, "labelOverlap": false,
        "labelBaseline": {"condition": {"test": "datum.value === 0", "value": "bottom"}, "value": "top"},
        "ticks": false, "domain": false, "minExtent": 50, "maxExtent": 50, "grid": true,
        "gridColor": {"condition": {"test": "datum.value === 0.25", "value": "#a9d6d8"}, "value": "#8fc8ca"},
        "gridDash": {"condition": {"test": "datum.value === 0.25", "value": []}, "value": [1.5, 1.5]},
        "gridWidth": {"condition": {"test": "datum.value === 0.25", "value": 1.5}, "value": 1},
        "gridOpacity": {"condition": {"test": "datum.value === 0 || datum.value === 0.4", "value": 0}, "value": 1}}}
     }
    },
    {"data": {"name": "trace"}, "mark": {"type": "line", "color": "#111111", "strokeWidth": 2.0, "clip": true}, "encoding": {"x": {"field": "t", "type": "quantitative"}, "y": {"field": "c", "type": "quantitative"}}},
    {"data": {"values": [{}]}, "mark": {"type": "rule", "color": "#c99090", "strokeWidth": 1.3}, "encoding": {"x": {"datum": 5}}},
    {"data": {"values": [{}]}, "mark": {"type": "rule", "color": "black", "strokeWidth": 4, "strokeCap": "square"}, "encoding": {"x": {"datum": 0}, "y": {"datum": 0}, "y2": {"datum": 0.4}}},
    {"data": {"values": [{}]}, "mark": {"type": "rule", "color": "black", "strokeWidth": 4}, "encoding": {"x": {"datum": 0}, "x2": {"datum": 0.6}, "y": {"datum": 0.4}}},
    {"data": {"values": [{}]}, "mark": {"type": "text", "text": "S-urine", "align": "left", "baseline": "middle", "fontSize": 24, "fontWeight": "bold", "font": "DejaVu Sans"}, "encoding": {"x": {"datum": 0.28}, "y": {"datum": 0.082}}}
   ]
  },
  {
   "width": 435, "height": 304,
   "layer": [
    {
     "data": {"name": "trace"},
     "mark": {"type": "line", "color": "#5a5a5a", "strokeWidth": 3.4, "opacity": 0.6, "clip": true},
     "encoding": {
      "x": {"field": "t", "type": "quantitative", "scale": {"domain": [0, 15], "nice": false, "zero": false},
       "axis": {"title": "time (minutes)", "titleFontSize": 20, "titlePadding": 9, "titleX": 230, "tickCount": 1000, "values": [0,0.5,1,1.5,2,2.5,3,3.5,4,4.5,5,5.5,6,6.5,7,7.5,8,8.5,9,9.5,10,10.5,11,11.5,12,12.5,13,13.5,14,14.5,15],
        "format": "d", "labelExpr": "datum.value % 5 === 0 ? datum.label : ''", "labelFontSize": 21, "labelPadding": 19, "labelFlush": false, "labelOverlap": false,
        "ticks": false, "domainColor": "black", "domainWidth": 4, "grid": true,
        "gridColor": {"condition": {"test": "datum.value % 2.5 === 0", "value": "#a9d6d8"}, "value": "#8fc8ca"},
        "gridDash": {"condition": {"test": "datum.value % 2.5 === 0", "value": []}, "value": [1.5, 1.5]},
        "gridWidth": {"condition": {"test": "datum.value % 2.5 === 0", "value": 1.5}, "value": 1}}},
      "y": {"field": "d", "type": "quantitative", "scale": {"domain": [0, 0.412], "nice": false},
       "axis": {"title": null, "tickCount": 1000, "values": [0,0.4,0.01,0.03,0.05,0.07,0.09,0.11,0.13,0.15,0.17,0.19,0.21,0.23,0.25,0.27,0.29,0.31,0.33,0.35,0.37,0.39,0.41],
        "labelExpr": "datum.value === 0 || datum.value === 0.4 ? format(datum.value, '.1f') : ''",
        "labelFontSize": {"condition": {"test": "datum.value === 0 || datum.value === 0.4", "value": 19}, "value": 0.1},
        "labelPadding": 9, "labelOverlap": false,
        "labelBaseline": {"condition": {"test": "datum.value === 0", "value": "bottom"}, "value": "top"},
        "ticks": false, "domain": false, "minExtent": 50, "maxExtent": 50, "grid": true,
        "gridColor": {"condition": {"test": "datum.value === 0.25", "value": "#a9d6d8"}, "value": "#8fc8ca"},
        "gridDash": {"condition": {"test": "datum.value === 0.25", "value": []}, "value": [1.5, 1.5]},
        "gridWidth": {"condition": {"test": "datum.value === 0.25", "value": 1.5}, "value": 1},
        "gridOpacity": {"condition": {"test": "datum.value === 0 || datum.value === 0.4", "value": 0}, "value": 1}}}
     }
    },
    {"data": {"name": "trace"}, "mark": {"type": "line", "color": "#111111", "strokeWidth": 1.6, "clip": true}, "encoding": {"x": {"field": "t", "type": "quantitative"}, "y": {"field": "d", "type": "quantitative"}}},
    {"data": {"values": [{}]}, "mark": {"type": "rule", "color": "black", "strokeWidth": 4, "strokeCap": "square"}, "encoding": {"x": {"datum": 0}, "y": {"datum": 0}, "y2": {"datum": 0.4}}},
    {"data": {"values": [{}]}, "mark": {"type": "rule", "color": "black", "strokeWidth": 4}, "encoding": {"x": {"datum": 0}, "x2": {"datum": 0.6}, "y": {"datum": 0.4}}},
    {"data": {"values": [{}]}, "mark": {"type": "text", "text": "Preload", "align": "left", "baseline": "middle", "fontSize": 27, "fontWeight": "bold", "font": "DejaVu Sans"}, "encoding": {"x": {"datum": 0.58}, "y": {"datum": 0.328}}},
    {"data": {"values": [{}]}, "mark": {"type": "text", "text": "Load", "align": "left", "baseline": "middle", "fontSize": 27, "fontWeight": "bold", "font": "DejaVu Sans"}, "encoding": {"x": {"datum": 6.12}, "y": {"datum": 0.328}}},
    {"data": {"values": [{}]}, "mark": {"type": "text", "text": "Offload", "align": "left", "baseline": "middle", "fontSize": 27, "fontWeight": "bold", "font": "DejaVu Sans"}, "encoding": {"x": {"datum": 10.76}, "y": {"datum": 0.328}}},
    {"data": {"values": [{}]}, "mark": {"type": "text", "text": "Water", "align": "left", "baseline": "middle", "fontSize": 27, "fontWeight": "bold", "font": "DejaVu Sans"}, "encoding": {"x": {"datum": 0.28}, "y": {"datum": 0.169}}}
   ]
  }
 ]
}
]
}
